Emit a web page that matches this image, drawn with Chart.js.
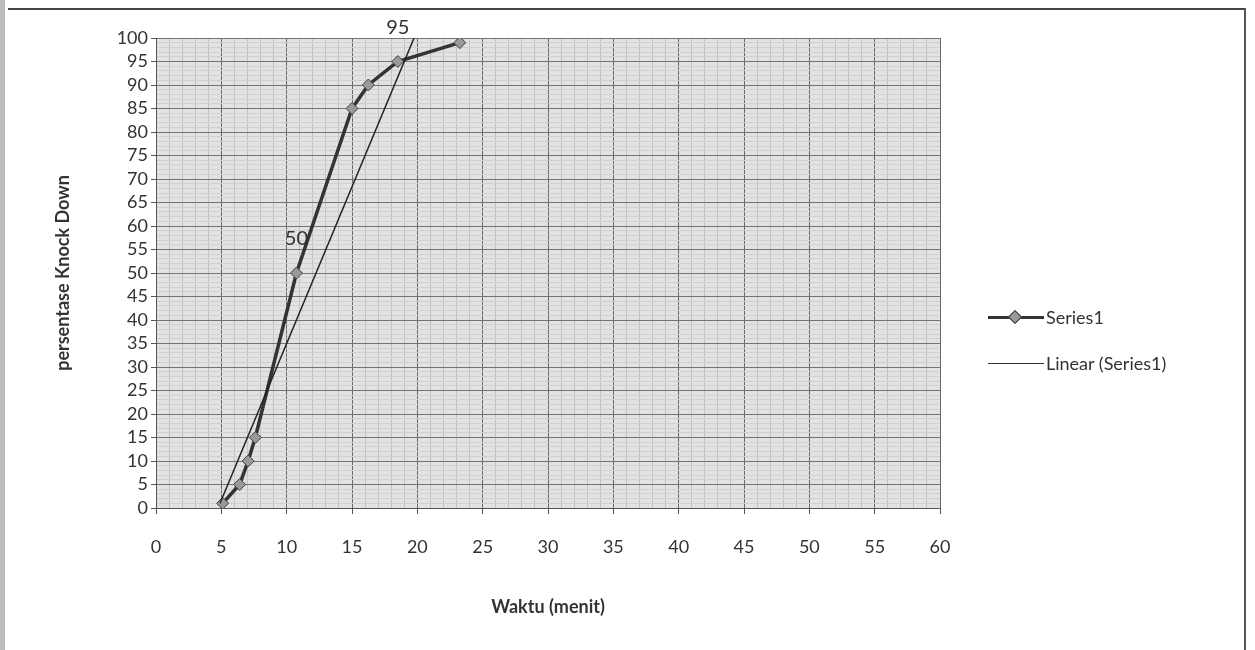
<!DOCTYPE html>
<html>
<head>
<meta charset="utf-8">
<script src="https://cdn.jsdelivr.net/npm/chart.js@4/dist/chart.umd.min.js"></script>
<style>
  html, body { margin: 0; padding: 0; background: #fff; }
  #wrap { position: relative; width: 1255px; height: 650px; overflow: hidden; font-family: Lato, "Open Sans", sans-serif; }
  #frame { position: absolute; left: 8px; top: 8px; width: 1236px; height: 660px; border-top: 2px solid #444; border-right: 2px solid #555; }
  #edge { position: absolute; left: 0; top: 0; width: 5px; height: 650px; background: #bdbdbd; }
  #legend { position: absolute; left: 988px; top: 294px; color: #333; font-size: 18px; }
  #legend .row { height: 46px; display: flex; align-items: center; }
  #legend .sym { position: relative; width: 56px; height: 20px; margin-right: 2px; }
  #legend .ln { position: absolute; left: 0; right: 0; top: 9px; border-top: 3px solid #333; }
  #legend .ln.thin { border-top-width: 1.5px; top: 10px; }
  #legend .dia { position: absolute; left: 22px; top: 5px; width: 8px; height: 8px; background: #999; border: 1px solid #333; transform: rotate(45deg); }
</style>
</head>
<body>
<div id="wrap">
  <canvas id="chart" width="1255" height="650"></canvas>
  <div id="edge"></div>
  <div id="frame"></div>
  <div id="legend">
    <div class="row"><div class="sym"><div class="ln"></div><div class="dia"></div></div>Series1</div>
    <div class="row"><div class="sym"><div class="ln thin"></div></div>Linear (Series1)</div>
  </div>
</div>
<script>
  // waktu (menit) vs persentase knock down
  const waktu = [5.1, 6.4, 7.05, 7.6, 10.75, 15, 16.25, 18.5, 23.25];
  const knockDown = [1, 5, 10, 15, 50, 85, 90, 95, 99];
  const pointLabels = ['', '', '', '', '50', '', '', '95', ''];

  // trendline ends as drawn (clipped at 100)
  const trendX = [4.9, 19.75];
  const trendY = [1, 100];

  const xMax = 60;
  const yMax = 100;

  const plotBg = {
    id: 'plotBg',
    beforeDraw(chart) {
      const { ctx, chartArea: a } = chart;
      ctx.save();
      ctx.fillStyle = '#e2e2e2';
      ctx.fillRect(a.left, a.top, a.right - a.left, a.bottom - a.top);
      ctx.restore();
    }
  };

  // excel style data labels on a few points
  const dataLabels = {
    id: 'dataLabels',
    afterDatasetsDraw(chart) {
      const { ctx } = chart;
      const meta = chart.getDatasetMeta(0);
      ctx.save();
      ctx.font = '20px Lato, "Open Sans", sans-serif';
      ctx.fillStyle = '#333';
      ctx.textAlign = 'center';
      ctx.textBaseline = 'middle';
      meta.data.forEach((pt, i) => {
        if (pointLabels[i]) ctx.fillText(pointLabels[i], pt.x, pt.y - 34);
      });
      ctx.restore();
    }
  };

  const isMajor = v => v % 5 === 0;

  new Chart(document.getElementById('chart'), {
    type: 'scatter',
    data: {
      datasets: [
        {
          label: 'Series1',
          data: waktu.map((x, i) => ({ x, y: knockDown[i] })),
          showLine: true,
          borderColor: '#333',
          borderWidth: 3.5,
          pointStyle: 'rectRot',
          pointRadius: 6,
          pointBackgroundColor: '#999',
          pointBorderColor: '#444',
          pointBorderWidth: 1,
          order: 1
        },
        {
          label: 'Linear (Series1)',
          data: trendX.map((x, i) => ({ x, y: trendY[i] })),
          showLine: true,
          borderColor: '#222',
          borderWidth: 1.5,
          pointRadius: 0,
          order: 0
        }
      ]
    },
    options: {
      responsive: false,
      animation: false,
      layout: { padding: { left: 48, right: 315, top: 38, bottom: 28 } },
      plugins: { legend: { display: false }, tooltip: { enabled: false } },
      scales: {
        x: {
          type: 'linear', min: 0, max: xMax,
          afterFit: s => { s.height = 650 - 508 - 28; },
          ticks: {
            stepSize: 1, autoSkip: false, maxRotation: 0, padding: 22,
            color: '#333', font: { size: 18, family: 'Lato' },
            callback: v => isMajor(v) ? v : ''
          },
          grid: {
            color: c => isMajor(c.tick.value) ? '#6a6a6a' : '#c2c2c2',
            tickColor: c => isMajor(c.tick.value) ? '#555' : 'rgba(0,0,0,0)',
            tickLength: 6
          },
          border: { color: '#555' },
          title: {
            display: true, text: 'Waktu (menit)', color: '#333',
            font: { size: 18, weight: 'bold', family: 'Lato' }, padding: { top: 4, bottom: 4 }
          }
        },
        y: {
          type: 'linear', min: 0, max: yMax,
          afterFit: s => { s.width = 156 - 48; },
          ticks: {
            stepSize: 1, autoSkip: false, padding: 3,
            color: '#333', font: { size: 18, family: 'Lato' },
            callback: v => isMajor(v) ? v : ''
          },
          grid: {
            color: c => isMajor(c.tick.value) ? '#747474' : '#d0d0d0',
            tickColor: c => isMajor(c.tick.value) ? '#555' : 'rgba(0,0,0,0)',
            tickLength: 5
          },
          border: { color: '#555' },
          title: {
            display: true, text: 'persentase Knock Down', color: '#333',
            font: { size: 18, weight: 'bold', family: 'Lato' }, padding: { top: 4, bottom: 4 }
          }
        }
      }
    },
    plugins: [plotBg, dataLabels]
  });
</script>
</body>
</html>
